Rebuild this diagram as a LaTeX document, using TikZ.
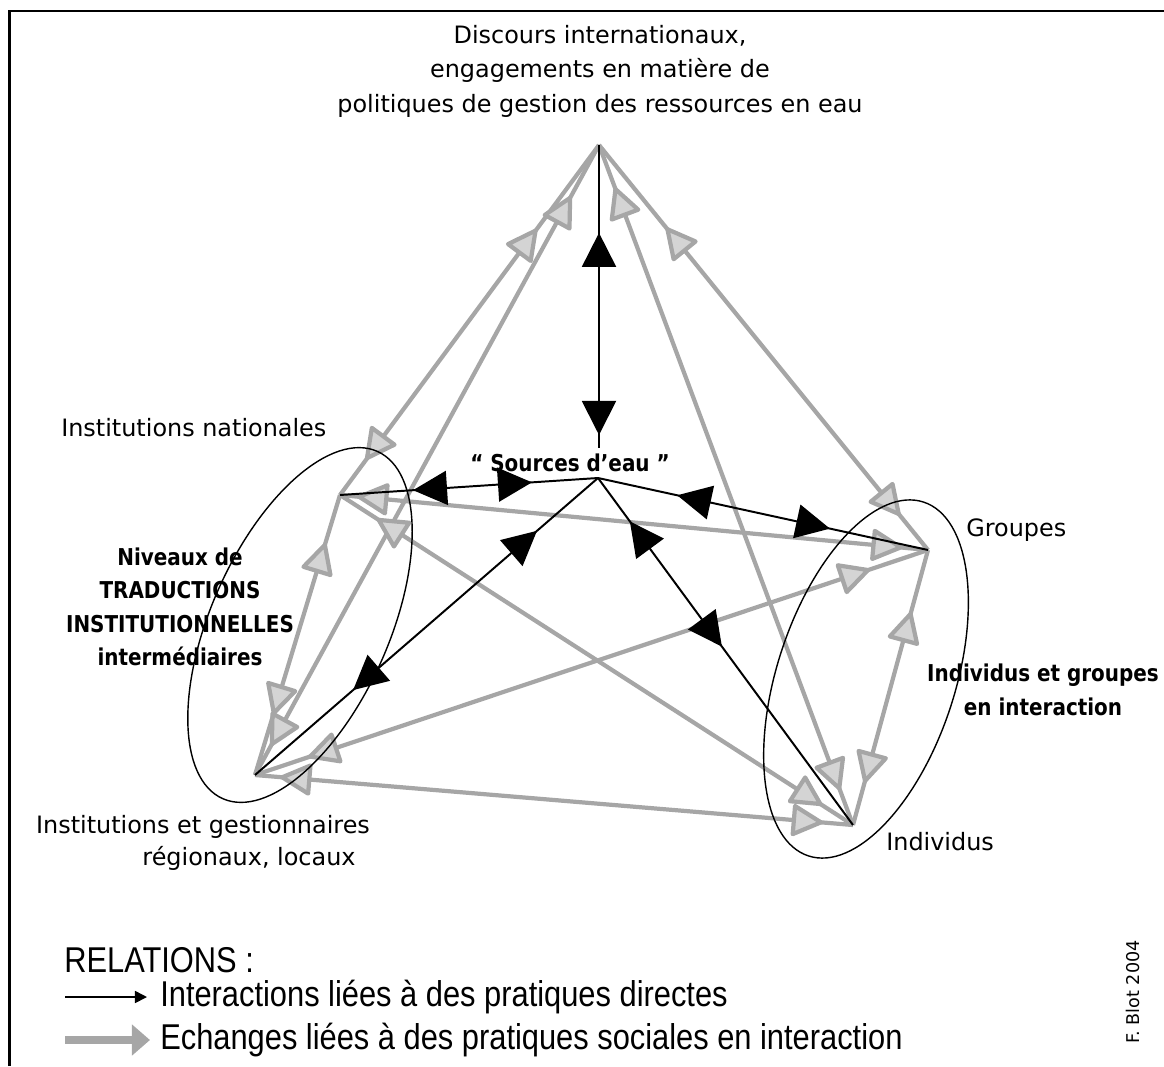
\documentclass[tikz,border=0pt]{standalone}
\usepackage{fontspec}
\setmainfont{DejaVu Sans}
\newfontfamily\boldfont[FakeStretch=0.86]{DejaVu Sans Bold}
\newfontfamily\legendfont[FakeStretch=0.86]{Liberation Sans}
\usetikzlibrary{arrows.meta}
\usetikzlibrary{decorations.markings}
\definecolor{linegray}{gray}{0.65}
\definecolor{tipgray}{gray}{0.83}
\tikzset{
    tipk/.tip = {Triangle[length=0.85cm, width=0.85cm]},
    tipg/.tip = {Triangle[fill=tipgray, length=0.85cm, width=0.85cm, round]},
    mytext/.style = {align=center, inner sep=0pt, font=\fontsize{17}{24.5}\selectfont, text=black},
    mytextb/.style = {align=center, inner sep=0pt, font=\boldfont\fontsize{16.5}{23.8}\selectfont, text=black},
    mytextl/.style = {anchor=west, inner sep=0pt, font=\legendfont\fontsize{25.5}{28}\selectfont, text=black},
    edgek/.style 2 args = {-, line width=1.4pt, black, postaction={decorate},
        decoration={markings, mark=at position #1 with {\arrowreversed{tipk}},
                              mark=at position #2 with {\arrow{tipk}}}}, % direct
    edgeg/.style 2 args = {-, line width=3pt, linegray, postaction={decorate},
        decoration={markings, mark=at position #1 with {\arrowreversed{tipg}},
                              mark=at position #2 with {\arrow{tipg}}}}, % social
    ring/.style = {line width=1pt, black}
}

\begin{document}
\begin{tikzpicture}[x=0.025cm, y=-0.025cm]
\path[use as bounding box] (0,0) rectangle (1164,1066);
\draw[line width=2.1pt] (9.5,1066) -- (9.5,11) -- (1164,11);
%
\coordinate (T) at (599,145);
\coordinate (S) at (598,478);
\coordinate (Sv) at (599,448);
\coordinate (N) at (340,495);
\coordinate (R) at (255,775);
\coordinate (G) at (928,550);
\coordinate (I) at (853,825);
\coordinate (cl) at (300,625);
\coordinate (cr) at (866,679);
%
\draw[edgeg={0.24}{0.90}] (T) -- (N);
\draw[edgeg={0.081}{0.954}] (T) -- (R);
\draw[edgeg={0.204}{0.915}] (T) -- (G);
\draw[edgeg={0.062}{0.949}] (T) -- (I);
\draw[edgeg={0.171}{0.786}] (N) -- (R);
\draw[edgeg={0.029}{0.957}] (N) -- (G);
\draw[edgeg={0.072}{0.94}] (N) -- (I);
\draw[edgeg={0.079}{0.914}] (R) -- (G);
\draw[edgeg={0.042}{0.95}] (R) -- (I);
\draw[edgeg={0.225}{0.847}] (G) -- (I);
%
\draw[edgek={0.29}{0.957}] (T) -- (Sv);
\draw[edgek={0.256}{0.717}] (S) -- (N);
\draw[edgek={0.178}{0.714}] (S) -- (R);
\draw[edgek={0.24}{0.703}] (S) -- (G);
\draw[edgek={0.125}{0.486}] (S) -- (I);
%
\draw[ring, rotate around={66:(cl)}] (cl) ellipse [x radius=4.75cm, y radius=2.225cm];
\draw[ring, rotate around={72:(cr)}] (cr) ellipse [x radius=4.65cm, y radius=2.225cm];
%
\node[mytext] (disc) at (600,71) {Discours internationaux,\\engagements en matière de\\politiques de gestion des ressources en eau};
\node[mytext, anchor=west] (nat) at (61,428) {Institutions nationales};
\node[mytextb] (src) at (570,463) {“ Sources d’eau ”};
\node[mytext, anchor=west] (grp) at (966,530) {Groupes};
\node[mytextb] (niv) at (180,607) {Niveaux de\\TRADUCTIONS\\INSTITUTIONNELLES\\intermédiaires};
\node[mytextb] (ind) at (1043,690) {Individus et groupes\\en interaction};
\node[mytext] (reg) at (203,827) {Institutions et gestionnaires};
\node[mytext] (loc) at (249,858) {régionaux, locaux};
\node[mytext, anchor=west] (indv) at (886,842) {Individus};
%
\node[mytextl] (rel) at (64,960) {RELATIONS :};
\coordinate (k1) at (65,997);
\coordinate (k2) at (147,997);
\draw[line width=1.2pt, -{Triangle[length=0.3cm, width=0.3cm]}] (k1) -- (k2);
\node[mytextl] (lk) at (160,997) {Interactions liées à des pratiques directes};
\coordinate (g1) at (65,1040);
\coordinate (g2) at (150,1040);
\draw[line width=6pt, linegray, -{Triangle[length=0.45cm, width=0.75cm]}] (g1) -- (g2);
\node[mytextl] (lg) at (160,1040) {Echanges liées à des pratiques sociales en interaction};
\node[rotate=90, inner sep=0pt, font=\fontsize{12.5}{14}\selectfont] (sig) at (1133,992) {F. Blot 2004};
\end{tikzpicture}
\end{document}
